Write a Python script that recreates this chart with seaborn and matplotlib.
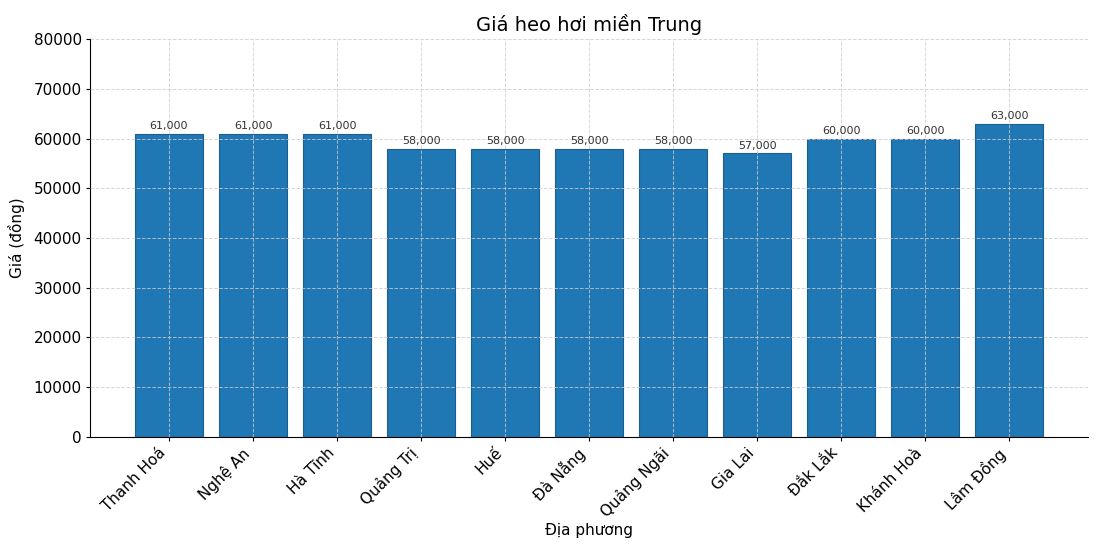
import matplotlib
matplotlib.use("Agg")
import matplotlib.pyplot as plt
import seaborn as sns
import pandas as pd

provinces = ["Thanh Hoá", "Nghệ An", "Hà Tĩnh", "Quảng Trị", "Huế", "Đà Nẵng",
             "Quảng Ngãi", "Gia Lai", "Đắk Lắk", "Khánh Hoà", "Lâm Đồng"]
prices = [61000, 61000, 61000, 58000, 58000, 58000, 58000, 57000, 60000, 60000, 63000]

sns.set_style("white", {"text.color": "black", "axes.labelcolor": "black",
                        "xtick.color": "black", "ytick.color": "black",
                        "axes.edgecolor": "black"})
plt.rcParams['font.family'] = ['DejaVu Sans']

df = pd.DataFrame({"Địa phương": provinces, "Giá": prices})

fig, ax = plt.subplots(figsize=(11.02, 5.51), dpi=100)
sns.barplot(data=df, x="Địa phương", y="Giá", color="#1f77b4", saturation=1,
            width=0.8, edgecolor="#1a5f8f", linewidth=0.8, ax=ax)

for i, v in enumerate(prices):
    ax.text(i, v + 500, f"{v:,}", ha="center", va="bottom", fontsize=8, color="#333333")

ax.set_xlim(-0.94, 10.94)
ax.set_ylim(0, 80000)
ax.set_yticks(range(0, 80001, 10000))
ax.set_title("Giá heo hơi miền Trung", fontsize=14, color="black")
ax.set_xlabel("Địa phương", fontsize=11, labelpad=2)
ax.set_ylabel("Giá (đồng)", fontsize=11, labelpad=6)
ax.grid(True, linestyle="--", color="#cccccc", linewidth=0.7, alpha=0.8)
ax.set_axisbelow(False)
for s in ["top", "right"]:
    ax.spines[s].set_visible(False)
ax.tick_params(axis="both", labelsize=11, length=3, left=True, bottom=True, pad=3)
plt.setp(ax.get_xticklabels(), rotation=45, ha="right")

fig.subplots_adjust(left=0.0817, right=0.9873, top=0.929, bottom=0.207)
fig.savefig("out.png", dpi=100)
